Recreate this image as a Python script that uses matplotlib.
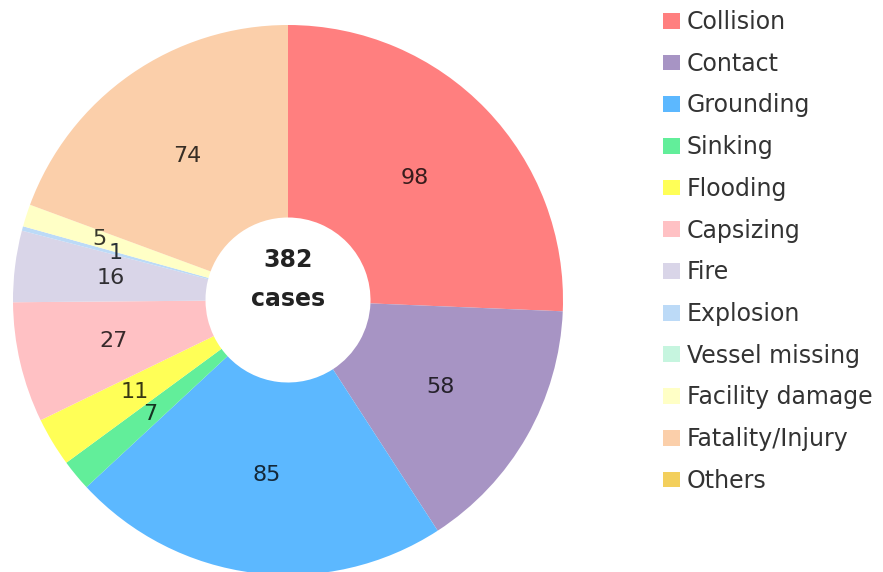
import numpy as np
import matplotlib
matplotlib.use("Agg")
import matplotlib.pyplot as plt
from matplotlib.patches import Patch
from matplotlib.colors import to_rgb

# --- data ---
categorias = ["Collision", "Contact", "Grounding", "Sinking", "Flooding",
              "Capsizing", "Fire", "Explosion", "Vessel missing",
              "Facility damage", "Fatality/Injury", "Others"]
casos = [98, 58, 85, 7, 11, 27, 16, 1, 0, 5, 74, 0]
colores = ["#ff7f7f", "#a794c4", "#5cb8ff", "#62ee9a", "#ffff57",
           "#ffc1c4", "#d9d5e8", "#bcdaf7", "#c6f5df", "#ffffc6",
           "#fbcfaa", "#f3cf5c"]
# distancia de la etiqueta (fraccion del radio)
dist_etiqueta = [0.64, 0.64, 0.64, 0.65, 0.65, 0.65, 0.65, 0.65, 0.65, 0.72, 0.64, 0.65]

total = sum(casos)

fig = plt.figure(figsize=(8.83, 5.72), dpi=100)
ax = fig.add_axes([13 / 883, (272 - 275) / 572, 550 / 883, 550 / 572])

wedges, _ = ax.pie(casos, colors=colores, startangle=90, counterclock=False,
                   radius=1, wedgeprops=dict(width=0.70, linewidth=0))
ax.set_xlim(-1, 1)
ax.set_ylim(-1, 1)
ax.set_aspect("equal")
ax.axis("off")

# etiquetas con el numero de casos
for w, v, d, c in zip(wedges, casos, dist_etiqueta, colores):
    if v == 0:
        continue
    ang = np.deg2rad((w.theta1 + w.theta2) / 2)
    col_txt = tuple(0.22 * x for x in to_rgb(c))
    ax.text(d * np.cos(ang), d * np.sin(ang), str(v), ha="center", va="center",
            fontsize=16, color=col_txt)

# texto central
ax.text(0, 0.145, str(total), ha="center", va="center", fontsize=17,
        fontweight="bold", color="#222222")
ax.text(0, 0.005, "cases", ha="center", va="center", fontsize=17,
        fontweight="bold", color="#222222")

# leyenda
handles = [Patch(facecolor=c, edgecolor="none", label=l) for c, l in zip(colores, categorias)]
leg = fig.legend(handles=handles, loc="upper left",
                 bbox_to_anchor=(663 / 883, 1 - 10 / 572), frameon=False,
                 fontsize=17, handlelength=0.7, handleheight=0.65,
                 handletextpad=0.3, labelspacing=0.75, borderpad=0,
                 borderaxespad=0)
for t in leg.get_texts():
    t.set_color("#333333")

plt.savefig("out.png", dpi=100)
